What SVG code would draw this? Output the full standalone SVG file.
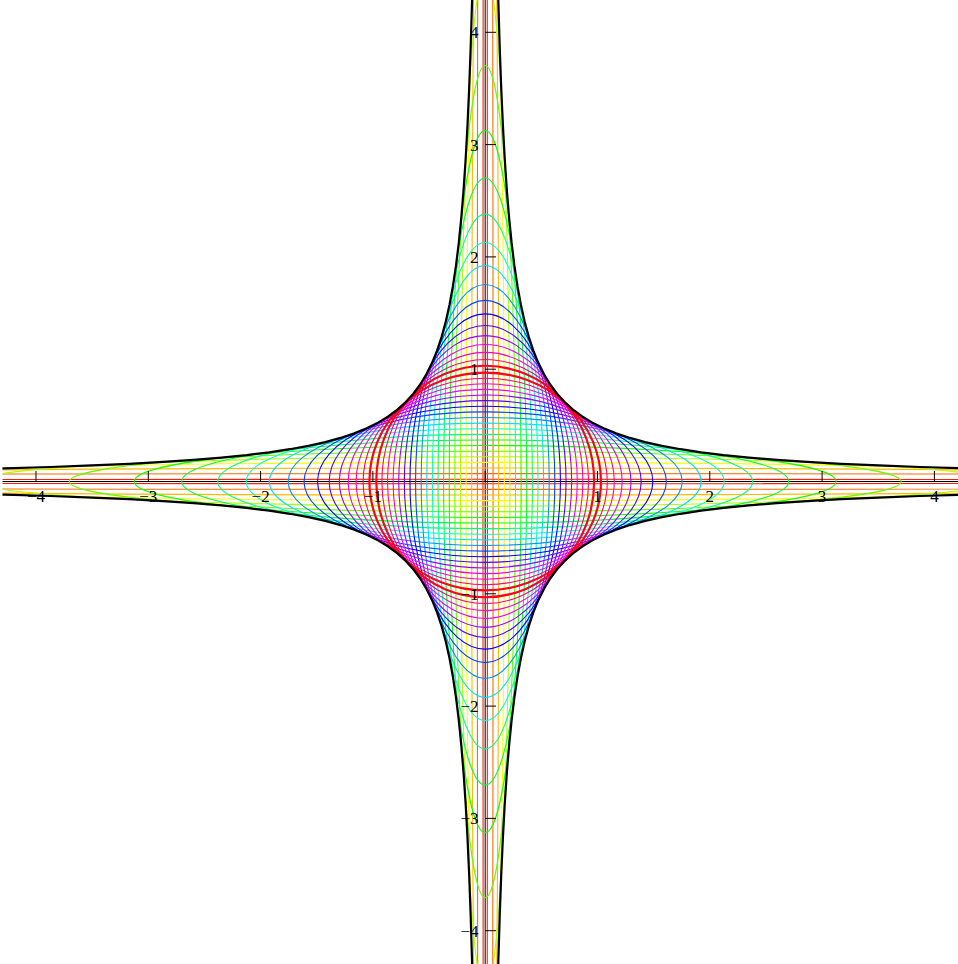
<svg xmlns="http://www.w3.org/2000/svg" xmlns:xlink="http://www.w3.org/1999/xlink" width="958" height="964" viewBox="0 0 958 964">
<style>
.ell ellipse{fill:none;stroke-width:1.1}
.env{fill:none;stroke:#000;stroke-width:2.2;stroke-linejoin:round}
.axis{stroke:#000;stroke-width:1;fill:none}
.lbl{font-family:"Liberation Serif","DejaVu Serif","Times New Roman",serif;font-size:17px;fill:#000}
</style>
<defs>
<clipPath id="plot"><rect x="2.5" y="0" width="955.5" height="964"/></clipPath>
<path id="br" d="M11.88,-530.93 L13.13,-480.40 14.51,-434.69 16.03,-393.32 17.72,-355.89 19.58,-322.02 21.64,-291.38 23.92,-263.65 26.43,-238.56 29.21,-215.86 32.29,-195.32 35.68,-176.73 39.43,-159.91 43.58,-144.69 48.16,-130.92 53.23,-118.46 58.83,-107.19 65.02,-96.99 71.85,-87.76 79.41,-79.41 87.76,-71.85 96.99,-65.02 107.19,-58.83 118.46,-53.23 130.92,-48.16 144.69,-43.58 159.91,-39.43 176.73,-35.68 195.32,-32.29 215.86,-29.21 238.56,-26.43 263.65,-23.92 291.38,-21.64 322.02,-19.58 355.89,-17.72 393.32,-16.03 434.69,-14.51 480.40,-13.13 530.93,-11.88"/>
</defs>
<rect width="958" height="964" fill="#fff"/>
<g clip-path="url(#plot)">
<g id="axes" class="axis">
<line x1="0" y1="481.5" x2="958" y2="481.5"/>
<line x1="485.2" y1="0" x2="485.2" y2="964"/>
</g>
<g id="ellipses" class="ell" transform="translate(485.2,481.5)">
<g stroke="#ff1f00"><ellipse rx="2.246" ry="5615"/><ellipse rx="5615" ry="2.246"/></g>
<g stroke="#ff6b00"><ellipse rx="7.861" ry="1604.3"/><ellipse rx="1604.3" ry="7.861"/></g>
<g stroke="#ffb800"><ellipse rx="13.476" ry="935.83"/><ellipse rx="935.83" ry="13.476"/></g>
<g stroke="#faff00"><ellipse rx="19.091" ry="660.59"/><ellipse rx="660.59" ry="19.091"/></g>
<g stroke="#adff00"><ellipse rx="24.706" ry="510.45"/><ellipse rx="510.45" ry="24.706"/></g>
<g stroke="#61ff00"><ellipse rx="30.321" ry="415.93"/><ellipse rx="415.93" ry="30.321"/></g>
<g stroke="#14ff00"><ellipse rx="35.936" ry="350.94"/><ellipse rx="350.94" ry="35.936"/></g>
<g stroke="#00ff38"><ellipse rx="41.551" ry="303.51"/><ellipse rx="303.51" ry="41.551"/></g>
<g stroke="#00ff85"><ellipse rx="47.166" ry="267.38"/><ellipse rx="267.38" ry="47.166"/></g>
<g stroke="#00ffd1"><ellipse rx="52.781" ry="238.94"/><ellipse rx="238.94" ry="52.781"/></g>
<g stroke="#00e0ff"><ellipse rx="58.396" ry="215.96"/><ellipse rx="215.96" ry="58.396"/></g>
<g stroke="#0094ff"><ellipse rx="64.011" ry="197.02"/><ellipse rx="197.02" ry="64.011"/></g>
<g stroke="#0047ff"><ellipse rx="69.626" ry="181.13"/><ellipse rx="181.13" ry="69.626"/></g>
<g stroke="#0500ff"><ellipse rx="75.241" ry="167.61"/><ellipse rx="167.61" ry="75.241"/></g>
<g stroke="#5200ff"><ellipse rx="80.856" ry="155.97"/><ellipse rx="155.97" ry="80.856"/></g>
<g stroke="#9e00ff"><ellipse rx="86.471" ry="145.84"/><ellipse rx="145.84" ry="86.471"/></g>
<g stroke="#eb00ff"><ellipse rx="92.086" ry="136.95"/><ellipse rx="136.95" ry="92.086"/></g>
<g stroke="#ff00c7"><ellipse rx="97.701" ry="129.08"/><ellipse rx="129.08" ry="97.701"/></g>
<g stroke="#ff007a"><ellipse rx="103.316" ry="122.07"/><ellipse rx="122.07" ry="103.316"/></g>
<g stroke="#ff0020"><ellipse rx="108.931" ry="115.77" style="stroke-width:2.2"/><ellipse rx="115.77" ry="108.931" style="stroke-width:2.2"/></g>
</g>
<g id="envelope" class="env" transform="translate(485.2,481.5)">
<use xlink:href="#br"/>
<use xlink:href="#br" transform="scale(-1,1)"/>
<use xlink:href="#br" transform="scale(1,-1)"/>
<use xlink:href="#br" transform="scale(-1,-1)"/>
</g>
</g>
<g id="ticks" class="axis">
<path d="M35.99,471V481.5M148.3,471V481.5M260.6,471V481.5M372.9,471V481.5M485.2,471V481.5M597.5,471V481.5M709.8,471V481.5M822.1,471V481.5M934.4,471V481.5"/>
<path d="M485.2,32.3H496M485.2,144.6H496M485.2,256.9H496M485.2,369.2H496M485.2,481.5H496M485.2,593.8H496M485.2,706.1H496M485.2,818.4H496M485.2,930.7H496"/>
</g>
<g id="xlabels" class="lbl" text-anchor="middle" font-family="Liberation Serif, serif">
<text x="35.99" y="502">−4</text>
<text x="148.3" y="502">−3</text>
<text x="260.6" y="502">−2</text>
<text x="372.9" y="502">−1</text>
<text x="597.5" y="502">1</text>
<text x="709.8" y="502">2</text>
<text x="822.1" y="502">3</text>
<text x="934.4" y="502">4</text>
</g>
<g id="ylabels" class="lbl" text-anchor="end" font-family="Liberation Serif, serif">
<text x="478.5" y="38.3">4</text>
<text x="478.5" y="150.6">3</text>
<text x="478.5" y="262.9">2</text>
<text x="478.5" y="375.2">1</text>
<text x="478.5" y="599.8">−1</text>
<text x="478.5" y="712.1">−2</text>
<text x="478.5" y="824.4">−3</text>
<text x="478.5" y="936.7">−4</text>
</g>
</svg>
